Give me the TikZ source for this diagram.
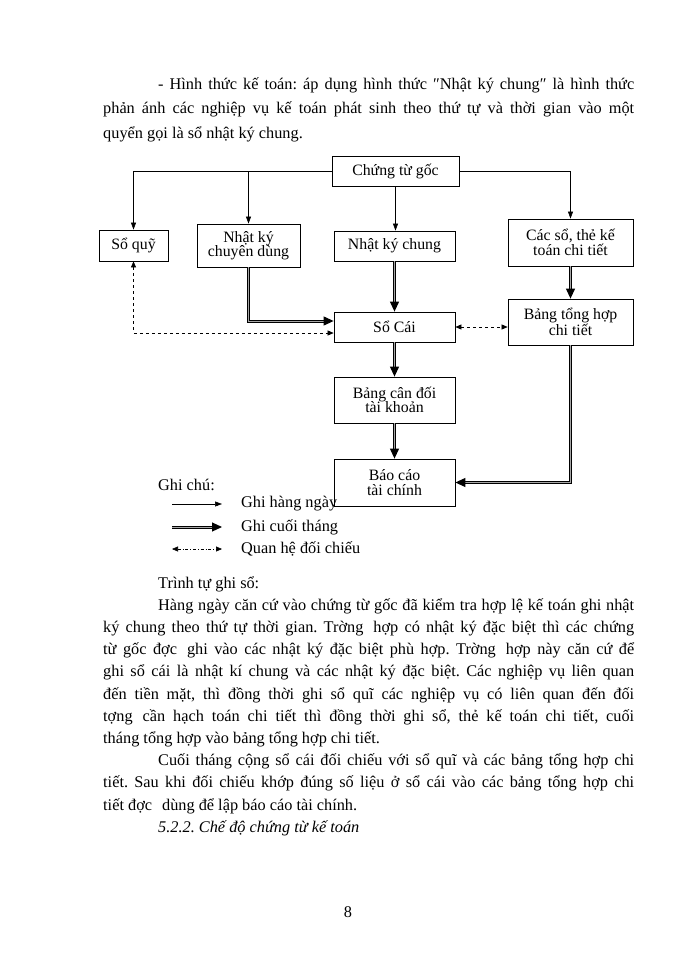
\documentclass[tikz,border=0pt]{standalone}
\usepackage{fontspec}
\setmainfont{Liberation Serif}
\usetikzlibrary{arrows.meta}
\frenchspacing
\newcommand{\bodyfont}{\fontsize{16.3}{22.2}\selectfont}
\newcommand{\topfont}{\fontsize{16.3}{24.5}\selectfont}
\newcommand{\boxfont}{\fontsize{15.8}{14.5}\selectfont}
\newcommand{\gap}{\hspace{10pt}}
\tikzset{
  sobox/.style={draw, line width=0.8pt, align=center, inner sep=1pt, font=\boxfont},
  daily/.style={line width=0.6pt, -{Triangle[length=7pt,width=5pt]}},
  monthly/.style={draw, line width=1.1pt, double=gray!70, double distance=0.8pt, -{Triangle[length=10pt,width=9pt]}},
  check/.style={line width=0.6pt, dashed, {Triangle[length=6pt,width=5pt]}-{Triangle[length=6pt,width=5pt]}},
  checkkey/.style={check, dash dot},
  para/.style={anchor=north west, text width=531pt, align=justify, font=\bodyfont, inner sep=0pt}
}

\begin{document}
\begin{tikzpicture}[x=1pt, y=-1pt]
\useasboundingbox[fill=white] (0,0) rectangle (700,960);
% text above the chart
\node[para, font=\topfont] (intro) at (103,77) {\hspace*{55pt}- Hình thức kế toán: áp dụng hình thức ″Nhật ký chung″ là hình thức\linebreak
phản ánh các nghiệp vụ kế toán phát sinh theo thứ tự và thời gian vào một\linebreak
quyển gọi là sổ nhật ký chung.};
% row 1 boxes
\node[sobox, minimum width=127pt, minimum height=30pt] (goc) at (395.5,171) {Chứng từ gốc};
% row 2 boxes
\node[sobox, minimum width=69pt, minimum height=31pt] (soquy) at (133.5,245.5) {Sổ quỹ};
\node[sobox, minimum width=103pt, minimum height=43pt] (nkcd) at (248.5,245.5) {Nhật ký\\chuyên dùng};
\node[sobox, minimum width=121pt, minimum height=30pt] (nkc) at (394.5,246) {Nhật ký chung};
\node[sobox, minimum width=125pt, minimum height=47pt] (cacso) at (570.5,242.5) {Các sổ, thẻ kế\\toán chi tiết};
% row 3 boxes
\node[sobox, minimum width=121pt, minimum height=30pt] (socai) at (394.5,327) {Sổ Cái};
\node[sobox, minimum width=125pt, minimum height=46pt] (btth) at (570.5,322) {Bảng tổng hợp\\chi tiết};
% column under Sổ Cái
\node[sobox, minimum width=121pt, minimum height=46pt] (bcd) at (394.5,400) {Bảng cân đối\\tài khoản};
\node[sobox, minimum width=121pt, minimum height=47pt] (bctc) at (394.5,482.5) {Báo cáo\\tài chính};
% daily arrows
\draw[daily] (goc.west) -| (soquy.north);
\draw[daily] (goc.west) -| (nkcd.north);
\draw[daily] (goc.south) -- (goc.south |- nkc.north);
\draw[daily] (goc.east) -| (cacso.north);
% month end arrows
\draw[monthly] (nkcd.south) |- ([yshift=6pt]socai.west);
\draw[monthly] (nkc.south) -- (socai.north);
\draw[monthly] (cacso.south) -- (btth.north);
\draw[monthly] (socai.south) -- (bcd.north);
\draw[monthly] (bcd.south) -- (bctc.north);
\draw[monthly] (btth.south) |- (bctc.east);
% cross checks
\draw[check] (soquy.south) |- ([yshift=-6pt]socai.west);
\draw[check] (socai.east) -- (socai.east -| btth.west);
% key
\node[anchor=west, font=\bodyfont, inner sep=0pt] (ghichu) at (158,485) {Ghi chú:};
\coordinate (k1a) at (172,504); \coordinate (k1b) at (222,504);
\coordinate (k2a) at (172,527); \coordinate (k2b) at (222,527);
\coordinate (k3a) at (172,549); \coordinate (k3b) at (222,549);
\draw[daily] (k1a) -- (k1b);
\draw[monthly] (k2a) -- (k2b);
\draw[checkkey] (k3a) -- (k3b);
\node[anchor=west, font=\bodyfont, inner sep=0pt] (lk1) at (241,504) {Ghi hàng ngày};
\node[anchor=west, font=\bodyfont, inner sep=0pt] (lk2) at (241,527) {Ghi cuối tháng};
\node[anchor=west, font=\bodyfont, inner sep=0pt] (lk3) at (241,549) {Quan hệ đối chiếu};
% text below the chart
\node[para] (steps) at (103,576) {\hspace*{55pt}Trình tự ghi sổ:\par
\hspace*{55pt}Hàng ngày căn cứ vào chứng từ gốc đã kiểm tra hợp lệ kế toán ghi nhật\linebreak
ký chung theo thứ tự thời gian. Trờng\gap hợp có nhật ký đặc biệt thì các chứng\linebreak
từ gốc đợc\gap ghi vào các nhật ký đặc biệt phù hợp. Trờng\gap hợp này căn cứ để\linebreak
ghi sổ cái là nhật kí chung và các nhật ký đặc biệt. Các nghiệp vụ liên quan\linebreak
đến tiền mặt, thì đồng thời ghi sổ quĩ các nghiệp vụ có liên quan đến đối\linebreak
tợng\gap cần hạch toán chi tiết thì đồng thời ghi sổ, thẻ kế toán chi tiết, cuối\linebreak
tháng tổng hợp vào bảng tổng hợp chi tiết.\par
\hspace*{55pt}Cuối tháng cộng sổ cái đối chiếu với sổ quĩ và các bảng tổng hợp chi\linebreak
tiết. Sau khi đối chiếu khớp đúng số liệu ở sổ cái vào các bảng tổng hợp chi\linebreak
tiết đợc\gap dùng để lập báo cáo tài chính.\par
\hspace*{55pt}\textit{5.2.2. Chế độ chứng từ kế toán}};
% page number
\node[font=\bodyfont] (page) at (348,912) {8};
\end{tikzpicture}
\end{document}
